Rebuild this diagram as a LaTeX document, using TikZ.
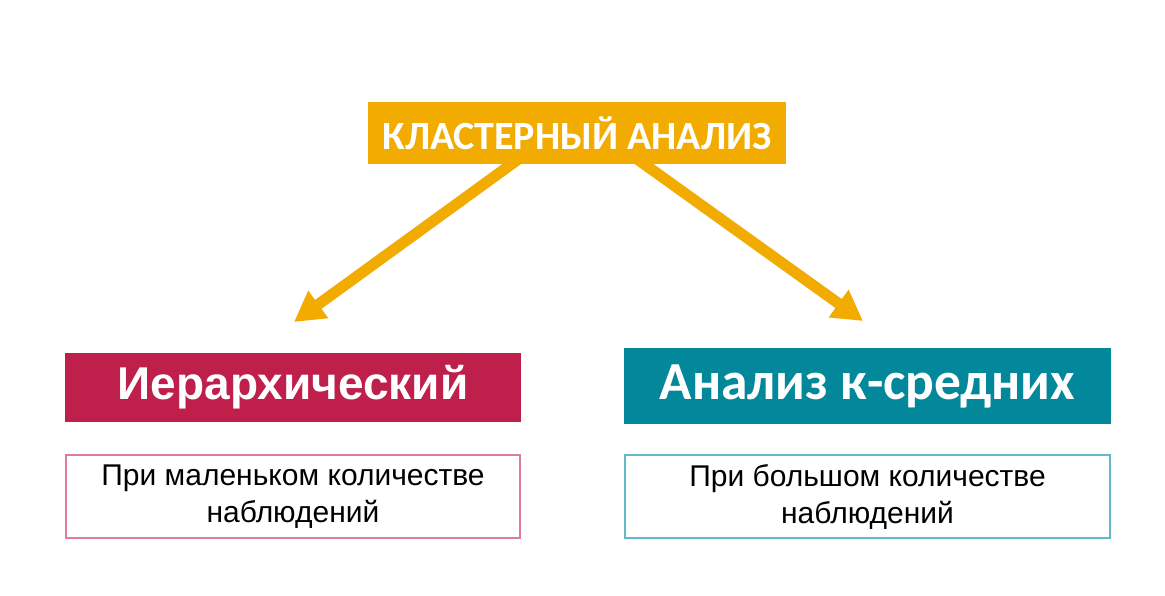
\documentclass[tikz,border=0pt]{standalone}
\usepackage{fontspec}
\setmainfont{Liberation Sans}
\newfontfamily\calibri{Carlito}
\usetikzlibrary{arrows.meta,backgrounds}
\definecolor{amber}{HTML}{F2AB00}
\definecolor{crimson}{HTML}{BE1F4B}
\definecolor{teal}{HTML}{02879B}
\definecolor{rose}{HTML}{E07D98}
\definecolor{aqua}{HTML}{63B9C8}
\tikzset{
  box/.style={inner sep=0pt, outer sep=0pt, align=center},
  titlebox/.style={box, fill=amber, text=white, minimum width=418pt, minimum height=62pt,
    font=\calibri\bfseries\fontsize{40}{44}\selectfont},
  headbox/.style={box, text=white, minimum height=#1},
  notebox/.style={box, draw=#1, line width=1.5pt, fill=white, minimum height=83pt,
    font=\fontsize{30}{37}\selectfont},
  pointer/.style={draw=amber, line width=11pt, -{Triangle[length=30pt,width=32pt]}}
}
\begin{document}
\begin{tikzpicture}[x=1pt,y=-1pt]
  \useasboundingbox (0,0) rectangle (1165,596);
  \node[titlebox] (cluster) at (577,133) {КЛАСТЕРНЫЙ АНАЛИЗ};
  \node[headbox=69pt, fill=crimson, minimum width=456pt,
    font=\bfseries\fontsize{46}{50}\selectfont] (hier) at (293,387.5) {Иерархический};
  \node[headbox=76pt, fill=teal, minimum width=487pt,
    font=\calibri\bfseries\fontsize{53.5}{58}\selectfont] (kmeans) at (867.5,386) {Анализ к-средних};
  \node[notebox=rose, minimum width=454pt] (hiernote) at (293,496.5)
    {При маленьком количестве\\наблюдений};
  \node[notebox=aqua, minimum width=485pt] (kmeansnote) at (867.5,496.5)
    {При большом количестве\\наблюдений};
  \coordinate (hiertip) at (294,322);
  \coordinate (kmeanstip) at (863,321);
  \begin{scope}[on background layer]
    \draw[pointer] ([xshift=-46pt,yshift=14pt]cluster.south) -- (hiertip);
    \draw[pointer] ([xshift=47.5pt,yshift=14pt]cluster.south) -- (kmeanstip);
  \end{scope}
\end{tikzpicture}
\end{document}
